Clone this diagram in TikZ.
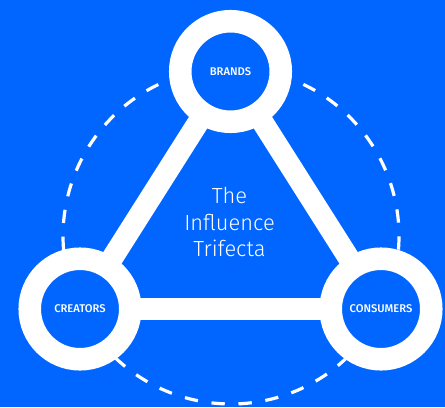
\documentclass[tikz,border=0pt]{standalone}
\usepackage{fontspec}
\setmainfont{Fira Sans}
\newfontfamily\labelfont{Fira Sans Medium}
\newfontfamily\titlefont{Fira Sans Light}
\definecolor{bg}{HTML}{0066FF}
\tikzset{x=0.75pt,y=0.75pt,
  ring/.style={circle,draw=white,line width=16.9pt,fill=bg,minimum size=75.4pt,inner sep=0pt,text=white,font=\labelfont\fontsize{8.4pt}{9pt}\selectfont},
  edge/.style={draw=white,line width=16.2pt},
  orbit/.style={draw=white,line width=2.4pt,dash pattern=on 10pt off 10.3pt},
  title/.style={text=white,align=center,font=\titlefont\fontsize{16.4pt}{19.8pt}\selectfont}}
\begin{document}
\begin{tikzpicture}
\useasboundingbox (0,0) rectangle (445,407);
\fill[bg] (0,0) rectangle (445,407);
\coordinate (c) at (231,171);
\draw[orbit] (c) ++(184.8:168) arc[start angle=184.8,end angle=115.2,radius=168];
\draw[orbit] (c) ++(64.5:168) arc[start angle=64.5,end angle=-4.8,radius=168];
\draw[orbit] (c) ++(226.4:168) arc[start angle=226.4,end angle=312.9,radius=168];
\coordinate (bc) at (230.5,335.5);
\coordinate (cc) at (80,98);
\coordinate (oc) at (381,98);
\draw[edge] (bc) -- (cc) -- (oc) -- cycle;
\node[ring] (b) at (bc) {BRANDS};
\node[ring] (cr) at (cc) {CREATORS};
\node[ring] (co) at (oc) {CONSUMERS};
\node[title] (t) at (229.5,185) {The\\Influence\\Trifecta};
\end{tikzpicture}
\end{document}
